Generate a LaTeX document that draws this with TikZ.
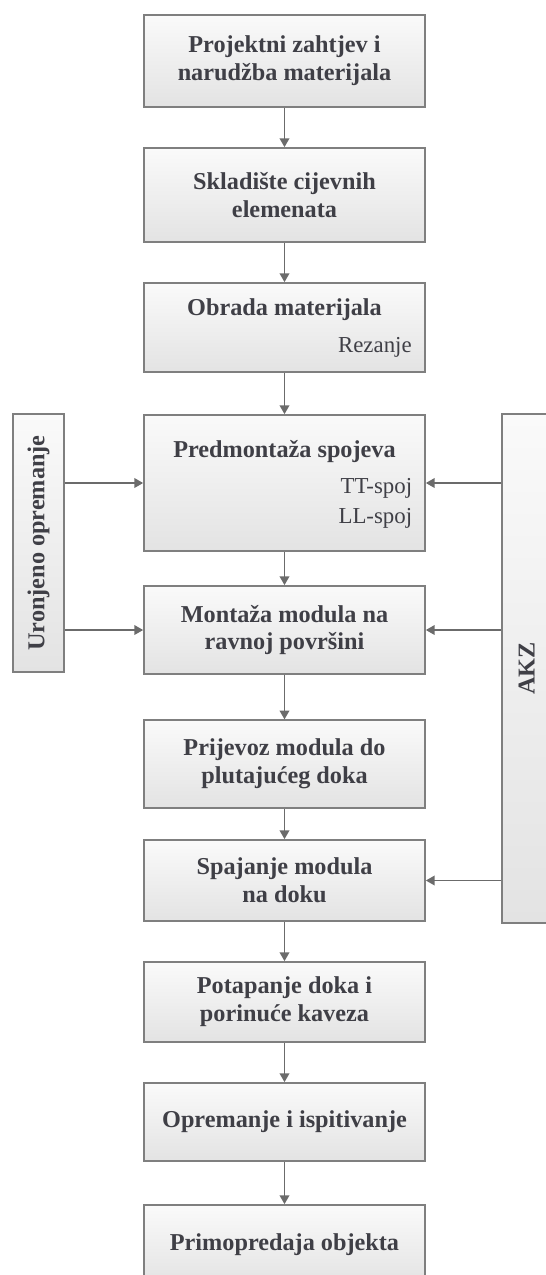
\documentclass[tikz,border=0pt]{standalone}
\usepackage{fontspec}
\usepackage{graphicx}
\setmainfont{Liberation Serif}
\usetikzlibrary{arrows.meta}
\definecolor{okvir}{HTML}{7F7F7F}
\definecolor{strelica}{HTML}{6B6B6B}
\definecolor{tekst}{HTML}{3F3F46}
\definecolor{gornja}{HTML}{FAFAFA}
\definecolor{donja}{HTML}{E3E3E3}
\tikzset{
    korak/.style={draw=okvir,line width=1pt,top color=gornja,bottom color=donja,
        text=tekst,font=\bfseries\fontsize{13.8}{15.9}\selectfont,align=center,
        inner sep=0pt,minimum width=5.62cm,minimum height=#1},
    bocni/.style={korak=#1,minimum width=0.98cm},
    naslov/.style={text=tekst,font=\bfseries\fontsize{13.8}{15.9}\selectfont,inner sep=0pt,anchor=base},
    podtekst/.style={text=tekst,font=\fontsize{13}{17}\selectfont,inner sep=0pt,anchor=base east},
    tok/.style={draw=strelica,line width=0.8pt,-{Triangle[length=5pt,width=5.5pt]}}
}
\begin{document}
\begin{tikzpicture}[x=0.02cm,y=-0.02cm]
\useasboundingbox (0,0) rectangle (546,1275);
% glavni tok
\node[korak=1.84cm](projekt) at (284.5,61){Projektni zahtjev i\\narudžba materijala};
\node[korak=1.88cm](sklad) at (284.5,195){Skladište cijevnih\\elemenata};
\node[korak=1.78cm](obrada) at (284.5,327.5){};
\node[naslov](obradaT) at (284.5,315){Obrada materijala};
\node[podtekst](rezanje) at (412,352){Rezanje};
\node[korak=2.72cm](pred) at (284.5,483){};
\node[naslov](predT) at (284.5,457){Predmontaža spojeva};
\node[podtekst](ttspoj) at (412.5,493){TT-spoj};
\node[podtekst](llspoj) at (412.5,523){LL-spoj};
\node[korak=1.76cm](mont) at (284.5,630){Montaža modula na\\ravnoj površini};
\node[korak=1.75cm](prijevoz) at (284.5,764){Prijevoz modula do\\plutajućeg doka};
\node[korak=1.62cm](spajanje) at (284.5,880.5){Spajanje modula\\na doku};
\node[korak=1.6cm](potap) at (284.5,1002){Potapanje doka i\\porinuće kaveza};
\node[korak=1.56cm](oprem) at (284.5,1122){Opremanje i ispitivanje};
\node[korak=1.6cm](primo) at (284.5,1245){Primopredaja objekta};

% bocni blokovi
\node[bocni=5.16cm,minimum width=1.02cm](uron) at (38.5,543){\rotatebox{90}{Uronjeno opremanje}};
\node[bocni=10.18cm,minimum width=0.98cm](akz) at (526.5,668.5){\rotatebox{90}{AKZ}};

\draw[tok](projekt)--(sklad);
\draw[tok](sklad)--(obrada);
\draw[tok](obrada)--(pred);
\draw[tok](pred)--(mont);
\draw[tok](mont)--(prijevoz);
\draw[tok](prijevoz)--(spajanje);
\draw[tok](spajanje)--(potap);
\draw[tok](potap)--(oprem);
\draw[tok](oprem)--(primo);

\draw[tok](uron.east |- pred)--(pred);
\draw[tok](uron.east |- mont)--(mont);
\draw[tok](akz.west |- pred)--(pred);
\draw[tok](akz.west |- mont)--(mont);
\draw[tok](akz.west |- spajanje)--(spajanje);
\end{tikzpicture}
\end{document}
